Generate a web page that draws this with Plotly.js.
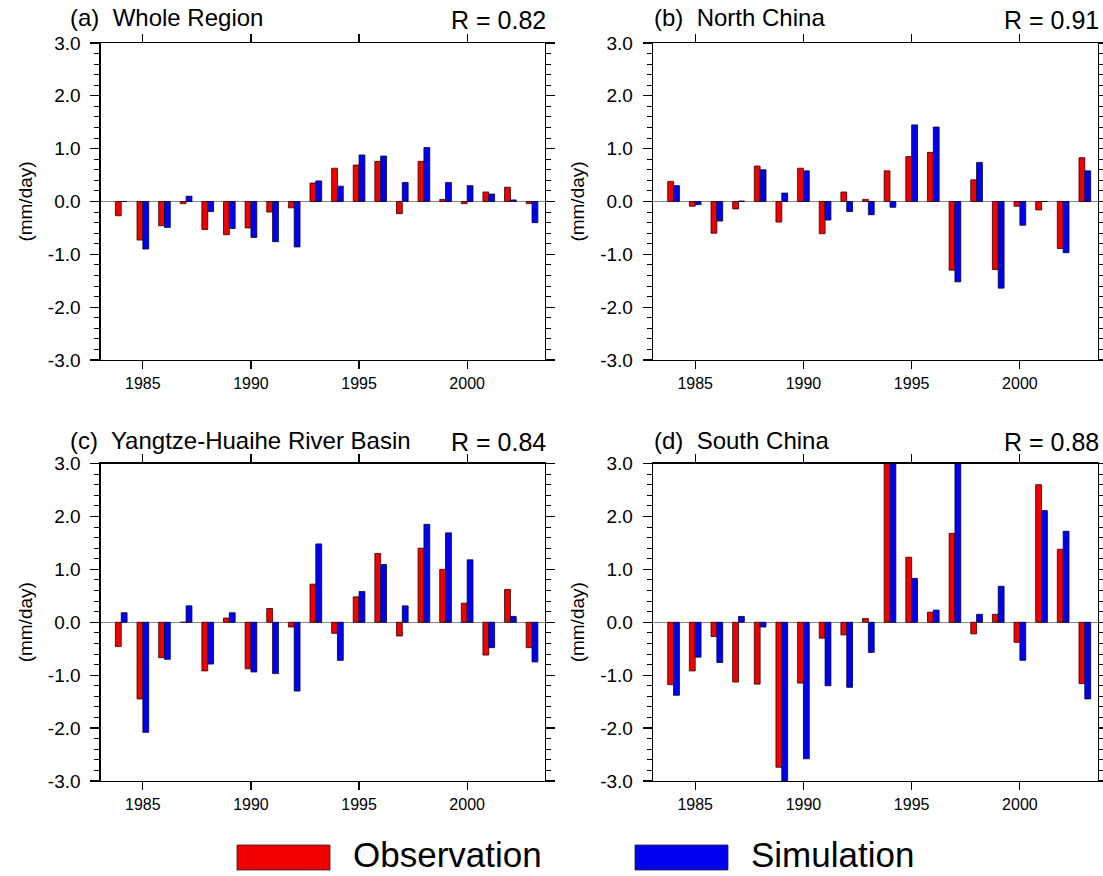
<!DOCTYPE html>
<html>
<head>
<meta charset="utf-8">
<script src="https://cdn.plot.ly/plotly-3.0.1.min.js"></script>
<style>
  html, body { margin: 0; padding: 0; background: #fff; }
  #chart { width: 1103px; height: 876px; }
</style>
</head>
<body>
<div id="chart"></div>
<script>
// ---------- data ----------
const years = [1984, 1985, 1986, 1987, 1988, 1989, 1990, 1991, 1992, 1993,
               1994, 1995, 1996, 1997, 1998, 1999, 2000, 2001, 2002, 2003];

const obsWhole = [-0.27, -0.73, -0.46, -0.04, -0.53, -0.63, -0.50, -0.20, -0.12, 0.35,
                   0.63,  0.69,  0.76, -0.23,  0.76,  0.04, -0.04,  0.18,  0.27, -0.04];
const simWhole = [ 0.00, -0.90, -0.49,  0.10, -0.19, -0.51, -0.68, -0.76, -0.86, 0.39,
                   0.29,  0.88,  0.86,  0.36,  1.02,  0.36,  0.30,  0.14,  0.03, -0.40];

const obsNorth = [ 0.38, -0.09, -0.60, -0.14,  0.67, -0.39,  0.63, -0.61,  0.18, 0.04,
                   0.58,  0.85,  0.93, -1.30,  0.41, -1.29, -0.09, -0.16, -0.89, 0.83];
const simNorth = [ 0.30, -0.06, -0.37,  0.01,  0.60,  0.16,  0.58, -0.35, -0.19, -0.25,
                  -0.11,  1.45,  1.41, -1.52,  0.74, -1.64, -0.45,  0.00, -0.97, 0.58];

const obsYH = [-0.46, -1.45, -0.67,  0.00, -0.92,  0.08, -0.88,  0.26, -0.09, 0.72,
               -0.21,  0.48,  1.30, -0.26,  1.40,  1.00,  0.36, -0.62,  0.62, -0.48];
const simYH = [ 0.18, -2.08, -0.70,  0.31, -0.79,  0.18, -0.94, -0.97, -1.30, 1.48,
               -0.72,  0.58,  1.09,  0.31,  1.85,  1.69,  1.18, -0.48,  0.11, -0.75];

const obsSouth = [-1.18, -0.92, -0.27, -1.13, -1.17, -2.74, -1.15, -0.30, -0.24, 0.07,
                   3.40,  1.23,  0.19,  1.68, -0.22,  0.15, -0.38,  2.60,  1.38, -1.16];
const simSouth = [-1.38, -0.66, -0.76,  0.11, -0.09, -3.20, -2.58, -1.20, -1.23, -0.57,
                   3.60,  0.83,  0.23,  3.30,  0.15,  0.68, -0.72,  2.11,  1.72, -1.45];

const panelTitles = ["(a)  Whole Region", "(b)  North China",
                     "(c)  Yangtze-Huaihe River Basin", "(d)  South China"];
const rLabels = ["R = 0.82", "R = 0.91", "R = 0.84", "R = 0.88"];
const xTickVals = [1985, 1990, 1995, 2000];
const xTickText = ["1985", "1990", "1995", "2000"];
const yTickVals = [-3, -2, -1, 0, 1, 2, 3];
const yTickText = ["-3.0", "-2.0", "-1.0", "0.0", "1.0", "2.0", "3.0"];
const seriesNames = ["Observation", "Simulation"];

// ---------- styling ----------
const RED = "#f00000";
const BLUE = "#0000f0";
const FONT = "Liberation Sans, Arial, Helvetica, sans-serif";
const W = 1103, H = 876;

const panels = [
  {obs: obsWhole, sim: simWhole, xd: [100.7, 545], yd: [43, 360]},
  {obs: obsNorth, sim: simNorth, xd: [653, 1097.8], yd: [43, 360]},
  {obs: obsYH, sim: simYH, xd: [100.7, 545], yd: [463.5, 781]},
  {obs: obsSouth, sim: simSouth, xd: [653, 1097.8], yd: [463.5, 781]}
];

const traces = [];
const layout = {
  width: W, height: H,
  margin: {l: 0, r: 0, t: 0, b: 0},
  paper_bgcolor: "#fff", plot_bgcolor: "#fff",
  font: {family: FONT, color: "#000", size: 16},
  showlegend: false,
  barmode: "group",
  bargap: 0.46,
  bargroupgap: 0,
  annotations: [],
  shapes: []
};

panels.forEach((p, i) => {
  const n = i === 0 ? "" : String(i + 1);
  const xa = "x" + n, ya = "y" + n;
  traces.push({
    type: "bar", x: years, y: p.obs, name: seriesNames[0], xaxis: xa, yaxis: ya,
    marker: {color: RED, line: {color: "#300", width: 0.8}}
  });
  traces.push({
    type: "bar", x: years, y: p.sim, name: seriesNames[1], xaxis: xa, yaxis: ya,
    marker: {color: BLUE, line: {color: "#003", width: 0.8}}
  });
  layout["xaxis" + n] = {
    domain: [p.xd[0] / W, p.xd[1] / W],
    anchor: ya,
    range: [1983.05, 2003.6],
    tickvals: xTickVals, ticktext: xTickText,
    ticks: "outside", ticklen: 8, tickwidth: 1.2, tickcolor: "#000",
    showline: true, linecolor: "#000", linewidth: 1.3, mirror: "ticks",
    showgrid: false, zeroline: false,
    tickfont: {size: 16, family: FONT, color: "#000"}
  };
  layout["yaxis" + n] = {
    domain: [1 - p.yd[1] / H, 1 - p.yd[0] / H],
    anchor: xa,
    range: [-3, 3],
    tickvals: yTickVals, ticktext: yTickText,
    ticks: "outside", ticklen: 9, tickwidth: 1.2, tickcolor: "#000",
    minor: {dtick: 0.2, ticks: "outside", ticklen: 5, tickwidth: 1, tickcolor: "#000"},
    showline: true, linecolor: "#000", linewidth: 1.3, mirror: "ticks",
    showgrid: false,
    zeroline: true, zerolinecolor: "#8a8a8a", zerolinewidth: 1.5,
    ticklabelstandoff: 6,
    tickfont: {size: 19, family: FONT, color: "#000"},
    title: {text: "(mm/day)", font: {size: 19, family: FONT, color: "#000"}, standoff: 10}
  };
  // panel title & R label
  const titleX = (i % 2 === 0) ? 68 : 652;
  const titleY = (i < 2) ? 18 : 440;
  layout.annotations.push({
    xref: "paper", yref: "paper", x: titleX / W, y: 1 - titleY / H,
    xanchor: "left", yanchor: "middle", showarrow: false,
    text: panelTitles[i], font: {size: 24, family: FONT, color: "#000"}
  });
  layout.annotations.push({
    xref: "paper", yref: "paper", x: (p.xd[1] + 3) / W, y: 1 - (titleY + 2) / H,
    xanchor: "right", yanchor: "middle", showarrow: false,
    text: rLabels[i], font: {size: 25, family: FONT, color: "#000"}
  });
});

// legend (swatches + labels) at the bottom
const legendItems = [
  {color: RED, x0: 237, x1: 330, tx: 352, label: seriesNames[0]},
  {color: BLUE, x0: 635, x1: 728, tx: 750, label: seriesNames[1]}
];
legendItems.forEach(it => {
  layout.shapes.push({
    type: "rect", xref: "paper", yref: "paper",
    x0: it.x0 / W, x1: it.x1 / W, y0: 1 - 870 / H, y1: 1 - 845 / H,
    fillcolor: it.color, line: {color: "#222", width: 0.8}
  });
  layout.annotations.push({
    xref: "paper", yref: "paper", x: it.tx / W, y: 1 - 854 / H,
    xanchor: "left", yanchor: "middle", showarrow: false, borderpad: 0,
    text: it.label, font: {size: 35, family: FONT, color: "#000"}
  });
});

Plotly.newPlot("chart", traces, layout, {displayModeBar: false, staticPlot: true});
</script>
</body>
</html>
